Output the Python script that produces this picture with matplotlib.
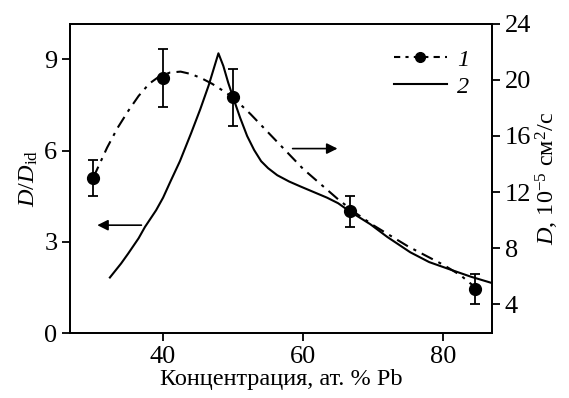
import matplotlib
matplotlib.use('Agg')
import matplotlib.pyplot as plt
from matplotlib.lines import Line2D

# точки с погрешностями (кривая 1, левая ось D/D_id)
conc_pts = [30, 40, 50, 66.7, 84.6]
ratio_pts = [5.1, 8.4, 7.75, 4.0, 1.45]
ratio_err = [0.6, 0.95, 0.95, 0.5, 0.5]

# сглаженная кривая 1 (штрих-пунктир)
conc_fit = [30, 31, 32, 33.5, 35, 36.5, 38, 39.5, 41, 42.5, 44, 45.5, 47, 48.5, 50,
            52.5, 55, 57.5, 60, 62.5, 65, 67.5, 70, 72.5, 75, 77.5, 80, 82.5, 84.6]
ratio_fit = [5.1, 5.6, 6.1, 6.75, 7.3, 7.8, 8.2, 8.45, 8.57, 8.6, 8.52, 8.38, 8.2, 7.98, 7.75,
             7.2, 6.6, 6.0, 5.4, 4.9, 4.4, 3.95, 3.55, 3.2, 2.85, 2.55, 2.25, 1.9, 1.5]

# кривая 2 (сплошная, правая ось D, 10^-5 см2/с)
conc_d = [32.4, 34, 35, 36.5, 37.4, 39, 40, 41, 42.4, 44, 45.3, 46.5, 47.9,
          48.6, 49.3, 50.1, 51, 52, 53, 54, 55, 56.3, 58, 59.6, 61.5, 63.4, 65, 66.7,
          68, 69.6, 72, 75.3, 78, 81.4, 84, 87]
d_vals = [5.9, 6.9, 7.6, 8.7, 9.5, 10.7, 11.6, 12.7, 14.2, 16.2, 17.9, 19.6, 21.9,
          21.0, 19.8, 18.6, 17.3, 16.0, 15.0, 14.2, 13.7, 13.2, 12.75, 12.4, 12.0, 11.6, 11.2, 10.6,
          10.2, 9.7, 8.8, 7.7, 7.0, 6.4, 5.95, 5.5]

plt.rcParams['font.family'] = 'Liberation Serif'
plt.rcParams['mathtext.fontset'] = 'custom'
plt.rcParams['mathtext.rm'] = 'Liberation Serif'
plt.rcParams['mathtext.it'] = 'Liberation Serif:italic'
plt.rcParams['font.size'] = 17.5

fig = plt.figure(figsize=(5.69, 3.98), dpi=100)
ax1 = fig.add_axes([0.123, 0.163, 0.742, 0.777])
ax2 = ax1.twinx()

# кривая 1
ax1.plot(conc_fit, ratio_fit, color='black', linewidth=1.5, dashes=(6, 3, 1.5, 3))
ax1.errorbar(conc_pts, ratio_pts, yerr=ratio_err, fmt='o', color='black',
             markersize=8.5, elinewidth=1.3, capsize=3.8, capthick=1.3)

# кривая 2
ax2.plot(conc_d, d_vals, color='black', linewidth=1.5)

ax1.set_xlim(26.7, 87)
ax1.set_ylim(0, 10.17)
ax2.set_ylim(1.93, 24)
ax1.set_xticks([40, 60, 80])
ax1.set_yticks([0, 3, 6, 9])
ax2.set_yticks([4, 8, 12, 16, 20, 24])

for ax in (ax1, ax2):
    for s in ax.spines.values():
        s.set_linewidth(1.3)
    ax.tick_params(direction='out', length=6, width=1.3, pad=3, labelsize=19)

ax1.set_xlabel('Концентрация, ат. % Pb', labelpad=1)
ax1.set_ylabel(r'$D/D_{\rm id}$', labelpad=3)
ax2.set_ylabel(r'$D$, 10$^{-5}$ см$^{2}$/с', labelpad=2)

# стрелки
ax1.annotate('', xy=(30.2, 3.55), xytext=(37.3, 3.55),
             arrowprops=dict(arrowstyle='-|>', color='black', lw=1.2,
                             mutation_scale=16))
ax2.annotate('', xy=(65.3, 15.1), xytext=(58.1, 15.1),
             arrowprops=dict(arrowstyle='-|>', color='black', lw=1.2,
                             mutation_scale=16))

# легенда
h1 = Line2D([], [], color='black', linewidth=1.5, dashes=(3, 2.5, 1.5, 2.5),
            marker='o', markersize=7)
h2 = Line2D([], [], color='black', linewidth=1.5)
ax2.legend([h1, h2], ['1', '2'], loc='upper left', bbox_to_anchor=(0.715, 0.99),
           frameon=False, handlelength=2.2, handletextpad=0.4,
           labelspacing=0.2, prop={'family': 'Liberation Serif',
                                   'style': 'italic', 'size': 17.5})

fig.savefig('out.png', dpi=100)
